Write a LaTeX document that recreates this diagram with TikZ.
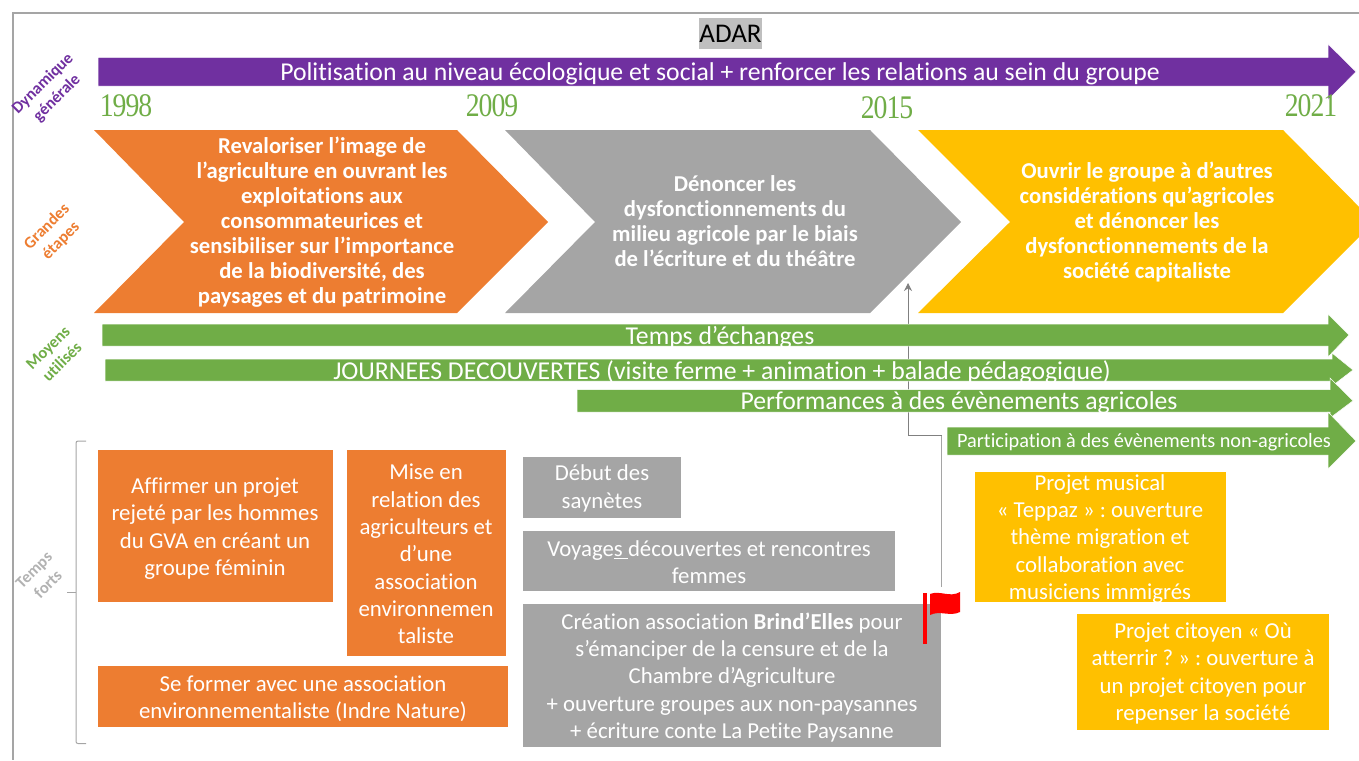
\documentclass[tikz,border=0pt]{standalone}
\usepackage{fontspec}
\setmainfont[Ligatures=NoCommon]{Carlito}
\newfontfamily\yearfont[LetterSpace=-3,FakeStretch=0.84]{Liberation Serif}
\usetikzlibrary{arrows.meta}
\frenchspacing
\definecolor{cpurple}{HTML}{7030A0}
\definecolor{corange}{HTML}{ED7D31}
\definecolor{cgray}{HTML}{A5A5A5}
\definecolor{cyellow}{HTML}{FFC000}
\definecolor{cgreen}{HTML}{70AD47}
\newcommand{\hbararrow}[8]{% fill, x0, xhead, xtip, ytop, ybot, headtop, headbot
  \path[fill=#1,draw=white,line width=0.5pt,line join=miter]
   (#2,#5) -- (#3,#5) -- (#3,#7) -- (#4,{(#5+#6)/2}) -- (#3,#8) -- (#3,#6) -- (#2,#6) -- cycle;}
\tikzset{
  boxtext/.style={text=white,align=center,font=\fontsize{22.8}{27.3}\selectfont,inner sep=0pt},
  chevtext/.style={text=white,align=center,font=\fontsize{22.7}{25}\selectfont\bfseries,inner sep=0pt},
  bartext/.style={text=white,inner sep=0pt,anchor=center},
  sidelabel/.style={rotate=45,align=center,font=\fontsize{16.5}{20}\selectfont\bfseries,inner sep=0pt},
  yearlabel/.style={text=cgreen,inner sep=0pt,font=\fontsize{33}{34}\selectfont\yearfont},
  frameline/.style={draw=cgray,line width=1.4pt},
  linkline/.style={draw=gray,line width=0.8pt},
  linklow/.style={draw=cgray,line width=1.1pt}
}
\begin{document}
\begin{tikzpicture}[x=1pt,y=-1pt]
\useasboundingbox (0,0) rectangle (1359,760);
\draw[frameline] (1359,13) -- (13,13) -- (13,760);
\node[fill=lightgray,text=black,inner sep=0pt,minimum width=63pt,minimum height=31pt,font=\fontsize{27}{30}\selectfont] (adar) at (730.5,33.5) {ADAR};
% purple arrow
\hbararrow{cpurple}{98}{1328}{1356}{57.5}{86}{44}{100}
\node[bartext,font=\fontsize{25.7}{30}\selectfont] (politisation) at (720,74) {Politisation au niveau écologique et social + renforcer les relations au sein du groupe};
\node[yearlabel] (y1998) at (126,106) {1998};
\node[yearlabel] (y2009) at (492,106) {2009};
\node[yearlabel] (y2015) at (887,108) {2015};
\node[yearlabel] (y2021) at (1311,106) {2021};
% chevrons
\fill[corange] (94,130) -- (457,130) -- (548,222) -- (457,313) -- (94,313) -- (184,222) -- cycle;
\fill[cgray] (505,130) -- (870,130) -- (961,222) -- (870,313) -- (505,313) -- (595,222) -- cycle;
\begin{scope}
\clip (0,0) rectangle (1359,760);
\fill[cyellow] (918,130) -- (1283,130) -- (1374,222) -- (1283,313) -- (918,313) -- (1010,222) -- cycle;
\end{scope}
\node[chevtext] (c1) at (322,222) {Revaloriser l’image de\\l’agriculture en ouvrant les\\exploitations aux\\consommateurices et\\sensibiliser sur l’importance\\de la biodiversité, des\\paysages et du patrimoine};
\node[chevtext] (c2) at (735,221) {Dénoncer les\\dysfonctionnements du\\milieu agricole par le biais\\de l’écriture et du théâtre};
\node[chevtext] (c3) at (1147,222) {Ouvrir le groupe à d’autres\\considérations qu’agricoles\\et dénoncer les\\dysfonctionnements de la\\société capitaliste};
% flag connector
\coordinate (flagtop) at (941.7,587);
\coordinate (bendlow) at (941.7,435);
\coordinate (gtip) at (908,283);
\draw[linklow] (flagtop) -- (bendlow);
\draw[linkline,-{Stealth[length=8pt,width=8pt]}] (bendlow) -- (908,435) -- (gtip);
% green arrows
\hbararrow{cgreen}{102}{1328}{1349}{324}{346}{314}{357}
\node[bartext,font=\fontsize{25.7}{30}\selectfont] (t1) at (720,337.5) {Temps d’échanges};
\hbararrow{cgreen}{105}{1332}{1353}{359}{381}{353}{386}
\node[bartext,font=\fontsize{25.7}{30}\selectfont] (t2) at (722,372.5) {JOURNEES DECOUVERTES (visite ferme + animation + balade pédagogique)};
\hbararrow{cgreen}{577}{1330}{1353}{389.5}{412}{378}{418}
\node[bartext,font=\fontsize{25.7}{30}\selectfont] (t3) at (959,403) {Performances à des évènements agricoles};
\hbararrow{cgreen}{947}{1328}{1356}{427}{455}{412}{469}
\node[bartext,font=\fontsize{20.3}{24}\selectfont] (t4) at (1144,442) {Participation à des évènements non-agricoles};
% side labels
\node[sidelabel,text=cpurple] (l1) at (50,91) {Dynamique\\générale};
\node[sidelabel,text=corange] (l2) at (54,234) {Grandes\\étapes};
\node[sidelabel,text=cgreen] (l3) at (55,355) {Moyens\\utilisés};
\node[sidelabel,text=lightgray!80!gray] (l4) at (41,577) {Temps\\forts};
% bracket
\draw[draw=cgray,line width=1pt,rounded corners=2pt] (86,441) -- (76,441) -- (76,743.5) -- (86,743.5);
\draw[draw=cgray,line width=1pt] (67,592) -- (76,592);
% boxes
\fill[corange] (98,450) rectangle (333,602);
\node[boxtext] (o1) at (215,528.5) {Affirmer un projet\\rejeté par les hommes\\du GVA en créant un\\groupe féminin};
\fill[corange] (347,450) rectangle (506,656);
\node[boxtext] (o2) at (426,554) {Mise en\\relation des\\agriculteurs et\\d’une\\association\\environnemen\\taliste};
\fill[corange] (98,666) rectangle (508,727);
\node[boxtext] (o3) at (303,698.5) {Se former avec une association\\environnementaliste (Indre Nature)};
\fill[cgray] (523,457) rectangle (681,518);
\node[boxtext] (g1) at (602,488.5) {Début des\\saynètes};
\fill[cgray] (523,531) rectangle (895,591);
\node[boxtext] (g2) at (709,562.5) {Voyage\underline{s\ }découvertes et rencontres\\femmes};
\fill[cgray] (523,604) rectangle (941,747);
\node[boxtext] (g3) at (732,677.5) {Création association \textbf{Brind’Elles} pour\\s’émanciper de la censure et de la\\Chambre d’Agriculture\\+ ouverture groupes aux non-paysannes\\+ écriture conte La Petite Paysanne};
\fill[cyellow] (975,472) rectangle (1226,602);
\node[boxtext] (y1) at (1100,539) {Projet musical\\« Teppaz » : ouverture\\thème migration et\\collaboration avec\\musiciens immigrés};
\fill[cyellow] (1077,614) rectangle (1329,730);
\node[boxtext] (y2) at (1203,673.5) {Projet citoyen « Où\\atterrir ? » : ouverture à\\un projet citoyen pour\\repenser la société};
% flag
\fill[red] (923,592.5) rectangle (927,644);
\fill[red] (930,594) .. controls (940,590) and (950,598) .. (960,592) -- (960,612) .. controls (950,617) and (940,610) .. (930,615) -- cycle;
\end{tikzpicture}
\end{document}
